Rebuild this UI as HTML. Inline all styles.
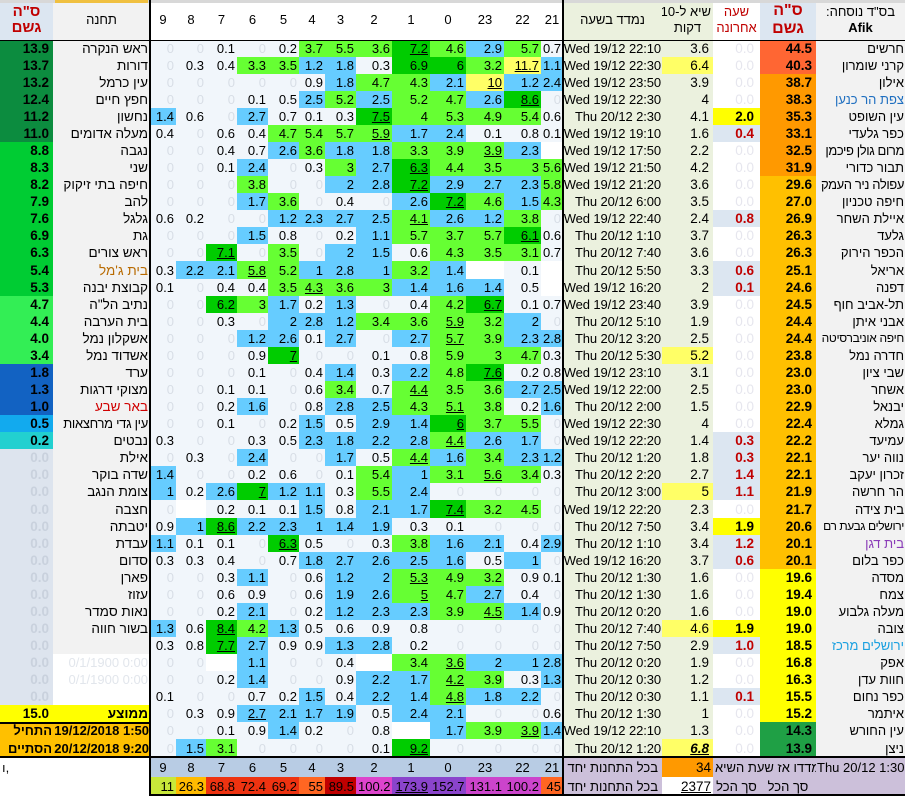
<!DOCTYPE html>
<html><head><meta charset="utf-8">
<style>
body{margin:0;width:905px;height:796px;overflow:hidden;background:#fff;font-family:"Liberation Sans",Arial,sans-serif;position:relative}
table{border-collapse:collapse;table-layout:fixed;width:905px;position:absolute;left:0;top:0}
td{padding:0 2px;height:17px;font-size:13px;text-align:right;white-space:nowrap;overflow:hidden;line-height:17px;color:#000;border:none}
tr.h td{height:18px}
.z{background:#f1f6fb;color:#d8dee6}
.p{background:#f1f6fb}
.b{background:#66ccff}
.g{background:#66ff33}
.d{background:#00cc00}
.y{background:#ffff66}
.u{text-decoration:underline}
.m{background:#f2f2f2;direction:rtl;font-size:13.5px}
.n{background:#f2f2f2;direction:rtl;font-size:13px;padding:0 1px}
.t{background:#ebf1de;font-size:13px;padding:0 1px 0 0;letter-spacing:-0.1px}
.k{background:#ebf1de;font-size:13.5px;padding-right:4px}
.ky{background:#ffff66;font-size:13.5px;padding-right:4px}
.l{color:#e6e6ee;font-size:13.5px;padding-right:6px}
.lr{background:#dce6f1;color:#c00000;font-weight:bold;font-size:13.5px;padding-right:6px}
.ly{background:#ffff00;font-weight:bold;font-size:13.5px;padding-right:6px}
.o1,.o2,.o3,.o4,.o5,.a1,.a2,.a3,.a4,.a5,.a6,.a0{font-weight:bold;font-size:13.5px;padding-right:4px}
.o1{background:#ff6633}.o2{background:#ff9900}.o3{background:#ffc000}.o4{background:#ffff00}.o5{background:#1fa045}
.a1{background:#0c8c3f}.a2{background:#00cc33}.a3{background:#33ee55}.a4{background:#1262c2}.a5{background:#12aaee}.a6{background:#22d0d0}
.a0{background:#dde4ee;color:#c9d1dd}
.hd td{height:40px;text-align:center;line-height:16px;font-size:13px}
.ln{position:absolute;background:#000}
.or{background:#ffc000;font-weight:bold;font-size:13px;padding:0 1px}
</style></head><body>
<table>
<colgroup><col style="width:53px"><col style="width:97px"><col style="width:26px"><col style="width:30px"><col style="width:31px"><col style="width:31px"><col style="width:31px"><col style="width:26px"><col style="width:31px"><col style="width:36px"><col style="width:38px"><col style="width:36px"><col style="width:38px"><col style="width:37px"><col style="width:22px"><col style="width:99px"><col style="width:51px"><col style="width:47px"><col style="width:56px"><col style="width:89px"></colgroup>
<tr class="hd"><td style="background:#dce6f1;color:#c00000;font-weight:bold;font-size:15px;direction:rtl">ס"ה<br>גשם</td><td style="background:#f2f2f2">תחנה</td><td>9</td><td>8</td><td>7</td><td>6</td><td>5</td><td>4</td><td>3</td><td>2</td><td>1</td><td>0</td><td>23</td><td>22</td><td>21</td><td style="background:#ebf1de;font-size:13px">נמדד בשעה</td><td style="background:#ebf1de;direction:rtl">שיא ל-10<br>דקות</td><td style="color:#c00000">שעה<br>אחרונה</td><td style="background:#dce6f1;color:#c00000;font-weight:bold;font-size:16px;line-height:18px;direction:rtl">ס"ה<br>גשם</td><td style="background:#f2f2f2;direction:rtl">בס"ד נוסחה:<br><b>Afik</b></td></tr>
<tr><td class=a1>13.9<td class=m>ראש הנקרה<td class=z>0<td class=z>0<td class=p>0.1<td class=z>0<td class=p>0.2<td class=g>3.7<td class=g>5.5<td class=g>3.6<td class="d u">7.2<td class=g>4.6<td class=b>2.9<td class=g>5.7<td class=p>0.7<td class=t>Wed 19/12 22:10<td class=k>3.6<td class=l>0.0<td class=o1>44.5<td class=n>חרשים</tr>
<tr><td class=a1>13.7<td class=m>דורות<td class=z>0<td class=p>0.3<td class=p>0.4<td class=g>3.3<td class=g>3.5<td class=b>1.2<td class=b>1.8<td class=p>0.3<td class=d>6.9<td class=d>6<td class=g>3.2<td class="y u">11.7<td class=b>1.1<td class=t>Wed 19/12 22:30<td class=ky>6.4<td class=l>0.0<td class=o1>40.3<td class=n>קרני שומרון</tr>
<tr><td class=a1>13.2<td class=m>עין כרמל<td class=z>0<td class=z>0<td class=z>0<td class=z>0<td class=z>0<td class=p>0.9<td class=b>1.8<td class=g>4.7<td class=g>4.3<td class=b>2.1<td class="y u">10<td class=b>1.2<td class=b>2.4<td class=t>Wed 19/12 23:50<td class=k>3.9<td class=l>0.0<td class=o2>38.7<td class=n>אילון</tr>
<tr><td class=a1>12.4<td class=m>חפץ חיים<td class=z>0<td class=z>0<td class=z>0<td class=p>0.1<td class=p>0.5<td class=b>2.5<td class=g>5.2<td class=b>2.5<td class=g>5.2<td class=g>4.7<td class=b>2.6<td class="d u">8.6<td class=z>0<td class=t>Wed 19/12 22:30<td class=k>4<td class=l>0.0<td class=o2>38.3<td class=n style="color:#1f6fc0">צפת הר כנען</tr>
<tr><td class=a1>11.2<td class=m>נחשון<td class=b>1.4<td class=p>0.6<td class=z>0<td class=b>2.7<td class=p>0.7<td class=p>0.1<td class=p>0.3<td class="d u">7.5<td class=g>4<td class=g>5.3<td class=g>4.9<td class=g>5.4<td class=p>0.6<td class=t>Thu 20/12 2:30<td class=k>4.1<td class=ly>2.0<td class=o2>35.3<td class=n>עין השופט</tr>
<tr><td class=a1>11.0<td class=m>מעלה אדומים<td class=p>0.4<td class=z>0<td class=p>0.6<td class=p>0.4<td class=g>4.7<td class=g>5.4<td class=g>5.7<td class="g u">5.9<td class=b>1.7<td class=b>2.4<td class=p>0.1<td class=p>0.8<td class=p>0.1<td class=t>Wed 19/12 19:10<td class=k>1.6<td class=lr>0.4<td class=o2>33.1<td class=n>כפר גלעדי</tr>
<tr><td class=a2>8.8<td class=m>נגבה<td class=z>0<td class=z>0<td class=p>0.4<td class=p>0.7<td class=b>2.6<td class=g>3.6<td class=b>1.8<td class=b>1.8<td class=g>3.3<td class=g>3.9<td class="g u">3.9<td class=b>2.3<td><td class=t>Wed 19/12 17:50<td class=k>2.2<td class=l>0.0<td class=o2>32.5<td class=n style="letter-spacing:-0.4px">מרום גולן פיכמן</tr>
<tr><td class=a2>8.3<td class=m>שני<td class=z>0<td class=z>0<td class=p>0.1<td class=b>2.4<td class=z>0<td class=p>0.3<td class=g>3<td class=b>2.7<td class="d u">6.3<td class=g>4.4<td class=g>3.5<td class=g>3<td class=g>5.6<td class=t>Wed 19/12 21:50<td class=k>4.2<td class=l>0.0<td class=o2>31.9<td class=n>תבור כדורי</tr>
<tr><td class=a2>8.2<td class=m>חיפה בתי זיקוק<td class=z>0<td class=z>0<td class=z>0<td class=g>3.8<td class=z>0<td class=z>0<td class=b>2<td class=b>2.8<td class="d u">7.2<td class=b>2.9<td class=b>2.7<td class=b>2.3<td class=g>5.8<td class=t>Wed 19/12 21:20<td class=k>3.6<td class=l>0.0<td class=o3>29.6<td class=n style="letter-spacing:-0.4px">עפולה ניר העמק</tr>
<tr><td class=a2>7.9<td class=m>להב<td class=z>0<td class=z>0<td class=z>0<td class=b>1.7<td class=g>3.6<td class=z>0<td class=p>0.4<td class=z>0<td class=b>2.6<td class="d u">7.2<td class=g>4.6<td class=b>1.5<td class=g>4.3<td class=t>Thu 20/12 6:00<td class=k>3.5<td class=l>0.0<td class=o3>27.0<td class=n>חיפה טכניון</tr>
<tr><td class=a2>7.6<td class=m>גלגל<td class=p>0.6<td class=p>0.2<td class=z>0<td class=z>0<td class=b>1.2<td class=b>2.3<td class=b>2.7<td class=b>2.5<td class="g u">4.1<td class=b>2.6<td class=b>1.2<td class=g>3.8<td class=z>0<td class=t>Wed 19/12 22:40<td class=k>2.4<td class=lr>0.8<td class=o3>26.9<td class=n>איילת השחר</tr>
<tr><td class=a2>6.9<td class=m>גת<td class=z>0<td class=z>0<td class=z>0<td class=b>1.5<td class=p>0.8<td class=z>0<td class=p>0.2<td class=b>1.1<td class=g>5.7<td class=g>3.7<td class=g>5.7<td class="d u">6.1<td class=p>0.6<td class=t>Thu 20/12 1:10<td class=k>3.7<td class=l>0.0<td class=o3>26.3<td class=n>גלעד</tr>
<tr><td class=a2>6.3<td class=m>ראש צורים<td class=z>0<td class=z>0<td class="d u">7.1<td class=z>0<td class=g>3.5<td class=z>0<td class=b>2<td class=b>1.5<td class=p>0.6<td class=g>4.3<td class=g>3.5<td class=g>3.1<td class=p>0.7<td class=t>Thu 20/12 7:40<td class=k>3.6<td class=l>0.0<td class=o3>26.3<td class=n>הכפר הירוק</tr>
<tr class=h><td class=a2>5.4<td class=m style="color:#b86a00">בית ג'מל<td class=p>0.3<td class=b>2.2<td class=b>2.1<td class="g u">5.8<td class=g>5.2<td class=b>1<td class=b>2.8<td class=b>1<td class=g>3.2<td class=b>1.4<td><td class=p>0.1<td><td class=t>Thu 20/12 5:50<td class=k>3.3<td class=lr>0.6<td class=o3>25.1<td class=n>אריאל</tr>
<tr><td class=a2>5.3<td class=m>קבוצת יבנה<td class=p>0.1<td class=z>0<td class=p>0.4<td class=p>0.4<td class=g>3.5<td class="g u">4.3<td class=g>3.6<td class=g>3<td class=b>1.4<td class=b>1.6<td class=b>1.4<td class=p>0.5<td><td class=t>Wed 19/12 16:20<td class=k>2<td class=lr>0.1<td class=o3>24.6<td class=n>דפנה</tr>
<tr><td class=a3>4.7<td class=m>נתיב הל"ה<td class=z>0<td class=z>0<td class=d>6.2<td class=g>3<td class=b>1.7<td class=p>0.2<td class=b>1.3<td class=z>0<td class=p>0.4<td class=g>4.2<td class="d u">6.7<td class=p>0.1<td class=p>0.7<td class=t>Wed 19/12 23:40<td class=k>3.9<td class=l>0.0<td class=o3>24.5<td class=n>תל-אביב חוף</tr>
<tr><td class=a3>4.4<td class=m>בית הערבה<td class=z>0<td class=z>0<td class=p>0.3<td class=z>0<td class=b>2<td class=b>2.8<td class=b>1.2<td class=g>3.4<td class=g>3.6<td class="g u">5.9<td class=g>3.2<td class=b>2<td class=z>0<td class=t>Thu 20/12 5:10<td class=k>1.9<td class=l>0.0<td class=o3>24.4<td class=n>אבני איתן</tr>
<tr><td class=a3>4.0<td class=m>אשקלון נמל<td class=z>0<td class=z>0<td class=z>0<td class=b>1.2<td class=b>2.6<td class=p>0.1<td class=b>2.7<td class=z>0<td class=b>2.7<td class="g u">5.7<td class=g>3.9<td class=b>2.3<td class=b>2.8<td class=t>Thu 20/12 3:20<td class=k>2.5<td class=l>0.0<td class=o3>24.4<td class=n style="font-size:12px;letter-spacing:-0.3px">חיפה אוניברסיטה</tr>
<tr><td class=a3>3.4<td class=m>אשדוד נמל<td class=z>0<td class=z>0<td class=z>0<td class=p>0.9<td class="d u">7<td class=z>0<td class=z>0<td class=p>0.1<td class=p>0.8<td class=g>5.9<td class=g>3<td class=g>4.7<td class=p>0.3<td class=t>Thu 20/12 5:30<td class=ky>5.2<td class=l>0.0<td class=o3>23.8<td class=n>חדרה נמל</tr>
<tr><td class=a4>1.8<td class=m>ערד<td class=z>0<td class=z>0<td class=z>0<td class=p>0.1<td class=z>0<td class=p>0.4<td class=b>1.4<td class=p>0.3<td class=b>2.2<td class=g>4.8<td class="d u">7.6<td class=p>0.2<td class=p>0.8<td class=t>Wed 19/12 23:10<td class=k>3.1<td class=l>0.0<td class=o3>23.0<td class=n>שבי ציון</tr>
<tr><td class=a4>1.3<td class=m>מצוקי דרגות<td class=z>0<td class=z>0<td class=p>0.1<td class=p>0.1<td class=z>0<td class=p>0.6<td class=g>3.4<td class=p>0.7<td class="g u">4.4<td class=g>3.5<td class=g>3.6<td class=b>2.7<td class=b>2.5<td class=t>Wed 19/12 22:00<td class=k>2.5<td class=l>0.0<td class=o3>23.0<td class=n>אשחר</tr>
<tr><td class=a4>1.0<td class=m style="color:#d00000">באר שבע<td class=z>0<td class=z>0<td class=p>0.2<td class=b>1.6<td class=z>0<td class=p>0.8<td class=b>2.8<td class=b>2.5<td class=g>4.3<td class="g u">5.1<td class=g>3.8<td class=p>0.2<td class=b>1.6<td class=t>Thu 20/12 2:00<td class=k>1.5<td class=l>0.0<td class=o3>22.9<td class=n>יבנאל</tr>
<tr><td class=a5>0.5<td class=m style="font-size:13px;letter-spacing:-0.3px">עין גדי מרחצאות<td class=z>0<td class=z>0<td class=p>0.1<td class=z>0<td class=p>0.2<td class=b>1.5<td class=p>0.5<td class=b>2.9<td class=b>1.4<td class="d u">6<td class=g>3.7<td class=g>5.5<td class=z>0<td class=t>Wed 19/12 22:30<td class=k>4<td class=l>0.0<td class=o3>22.4<td class=n>גמלא</tr>
<tr><td class=a6>0.2<td class=m>נבטים<td class=p>0.3<td class=z>0<td class=z>0<td class=p>0.3<td class=p>0.5<td class=b>2.3<td class=b>1.8<td class=b>2.2<td class=b>2.8<td class="g u">4.4<td class=b>2.6<td class=b>1.7<td class=z>0<td class=t>Wed 19/12 22:20<td class=k>1.4<td class=lr>0.3<td class=o3>22.2<td class=n>עמיעד</tr>
<tr><td class=a0>0.0<td class=m>אילת<td class=z>0<td class=p>0.3<td class=z>0<td class=b>2.4<td class=z>0<td class=z>0<td class=b>1.7<td class=p>0.5<td class="g u">4.4<td class=b>1.6<td class=g>3.4<td class=b>2.3<td class=b>1.2<td class=t>Thu 20/12 1:20<td class=k>1.8<td class=lr>0.3<td class=o3>22.1<td class=n>נווה יער</tr>
<tr><td class=a0>0.0<td class=m>שדה בוקר<td class=b>1.4<td class=z>0<td class=z>0<td class=p>0.2<td class=p>0.6<td class=z>0<td class=p>0.1<td class=g>5.4<td class=b>1<td class=g>3.1<td class="g u">5.6<td class=g>3.4<td class=p>0.3<td class=t>Thu 20/12 2:20<td class=k>2.7<td class=lr>1.4<td class=o3>22.1<td class=n>זכרון יעקב</tr>
<tr><td class=a0>0.0<td class=m>צומת הנגב<td class=b>1<td class=p>0.2<td class=b>2.6<td class="d u">7<td class=b>1.2<td class=b>1.1<td class=p>0.3<td class=g>5.5<td class=b>2.4<td class=z>0<td class=z>0<td class=z>0<td class=z>0<td class=t>Thu 20/12 3:00<td class=ky>5<td class=lr>1.1<td class=o3>21.9<td class=n>הר חרשה</tr>
<tr class=h><td class=a0>0.0<td class=m>חצבה<td class=z>0<td><td class=p>0.2<td class=p>0.1<td class=p>0.1<td class=b>1.5<td class=p>0.8<td class=b>2.1<td class=b>1.7<td class="d u">7.4<td class=g>3.2<td class=g>4.5<td class=z>0<td class=t>Wed 19/12 22:20<td class=k>2.3<td class=l>0.0<td class=o3>21.7<td class=n>בית צידה</tr>
<tr><td class=a0>0.0<td class=m>יטבתה<td class=p>0.9<td class=b>1<td class="d u">8.6<td class=b>2.2<td class=b>2.3<td class=b>1<td class=b>1.4<td class=b>1.9<td class=p>0.3<td class=p>0.1<td class=z>0<td class=z>0<td class=z>0<td class=t>Thu 20/12 7:50<td class=k>3.4<td class=ly>1.9<td class=o3>20.6<td class=n style="font-size:12px;letter-spacing:-0.4px">ירושלים גבעת רם</tr>
<tr><td class=a0>0.0<td class=m>עבדת<td class=b>1.1<td class=p>0.1<td class=p>0.1<td class=z>0<td class="d u">6.3<td class=p>0.5<td class=z>0<td class=p>0.3<td class=g>3.8<td class=b>1.6<td class=b>2.1<td class=p>0.4<td class=b>2.9<td class=t>Thu 20/12 1:10<td class=k>3.4<td class=lr>1.2<td class=o3>20.1<td class=n style="color:#8a3cb8">בית דגן</tr>
<tr><td class=a0>0.0<td class=m>סדום<td class=p>0.3<td class=p>0.3<td class=p>0.4<td class=z>0<td class=p>0.7<td class=b>1.8<td class=b>2.7<td class=b>2.6<td class=b>2.5<td class=b>1.6<td class=p>0.5<td class=b>1<td class=z>0<td class=t>Wed 19/12 16:20<td class=k>3.7<td class=lr>0.6<td class=o3>20.1<td class=n>כפר בלום</tr>
<tr><td class=a0>0.0<td class=m>פארן<td class=z>0<td class=z>0<td class=p>0.3<td class=b>1.1<td class=z>0<td class=p>0.6<td class=b>1.2<td class=b>2<td class="g u">5.3<td class=g>4.9<td class=g>3.2<td class=p>0.9<td class=p>0.1<td class=t>Thu 20/12 1:30<td class=k>1.6<td class=l>0.0<td class=o4>19.6<td class=n>מסדה</tr>
<tr><td class=a0>0.0<td class=m>עזוז<td class=z>0<td class=z>0<td class=p>0.6<td class=p>0.9<td class=z>0<td class=p>0.6<td class=b>1.9<td class=b>2.6<td class="g u">5<td class=g>4.7<td class=b>2.7<td class=p>0.4<td class=z>0<td class=t>Thu 20/12 1:30<td class=k>1.6<td class=l>0.0<td class=o4>19.4<td class=n>צמח</tr>
<tr><td class=a0>0.0<td class=m>נאות סמדר<td class=z>0<td class=z>0<td class=p>0.2<td class=b>2.1<td class=z>0<td class=p>0.2<td class=b>1.2<td class=b>2.3<td class=b>2.3<td class=g>3.9<td class="g u">4.5<td class=b>1.4<td class=p>0.9<td class=t>Thu 20/12 0:20<td class=k>1.6<td class=l>0.0<td class=o4>19.0<td class=n>מעלה גלבוע</tr>
<tr><td class=a0>0.0<td class=m>בשור חווה<td class=b>1.3<td class=p>0.6<td class="d u">8.4<td class=g>4.2<td class=b>1.3<td class=p>0.5<td class=p>0.6<td class=p>0.9<td class=p>0.8<td class=z>0<td class=z>0<td class=z>0<td class=z>0<td class=t>Thu 20/12 7:40<td class=ky>4.6<td class=ly>1.9<td class=o4>19.0<td class=n>צובה</tr>
<tr><td class=a0>0.0<td class=m><td class=p>0.3<td class=p>0.8<td class="d u">7.7<td class=b>2.7<td class=p>0.9<td class=p>0.9<td class=b>1.3<td class=b>2.8<td class=p>0.2<td class=z>0<td class=z>0<td class=z>0<td class=z>0<td class=t>Thu 20/12 7:50<td class=k>2.9<td class=lr>1.0<td class=o4>18.5<td class=n style="color:#1aa0e0">ירושלים מרכז</tr>
<tr><td class=a0>0.0<td style="color:#e2e6ec">0/1/1900 0:00<td class=z>0<td class=z>0<td><td class=b>1.1<td class=z>0<td class=z>0<td class=p>0.4<td><td class=g>3.4<td class="g u">3.6<td class=b>2<td class=b>1<td class=b>2.8<td class=t>Thu 20/12 0:20<td class=k>1.9<td class=l>0.0<td class=o4>16.8<td class=n>אפק</tr>
<tr><td class=a0>0.0<td style="color:#e2e6ec">0/1/1900 0:00<td class=z>0<td class=z>0<td class=p>0.2<td class=b>1.4<td class=z>0<td class=z>0<td class=p>0.9<td class=b>2.2<td class=b>1.7<td class="g u">4.2<td class=g>3.9<td class=p>0.3<td class=b>1.3<td class=t>Thu 20/12 0:30<td class=k>1.2<td class=l>0.0<td class=o4>16.3<td class=n>חוות עדן</tr>
<tr><td class=a0>0.0<td><td class=p>0.1<td class=z>0<td class=z>0<td class=p>0.7<td class=p>0.2<td class=b>1.5<td class=p>0.4<td class=b>2.2<td class=b>1.4<td class="g u">4.8<td class=b>1.8<td class=b>2.2<td class=z>0<td class=t>Thu 20/12 0:30<td class=k>1.1<td class=lr>0.1<td class=o4>15.5<td class=n>כפר נחום</tr>
<tr><td class=a1 style="background:#ffff00;color:#000">15.0<td style="background:#ffff00;font-weight:bold;font-size:13.5px">ממוצע<td class=z>0<td class=p>0.3<td class=p>0.9<td class="b u">2.7<td class=b>2.1<td class=b>1.7<td class=b>1.9<td class=p>0.5<td class=b>2.4<td class=b>2.1<td class=z>0<td class=z>0<td class=p>0.6<td class=t>Thu 20/12 1:30<td class=k>1<td class=l>0.0<td class=o4>15.2<td class=n>איתמר</tr>
<tr><td class=or>התחיל<td class=or>19/12/2018 1:50<td class=z>0<td class=z>0<td class=p>0.1<td class=p>0.9<td class=b>1.4<td class=p>0.2<td class=z>0<td class=p>0.8<td><td class=b>1.7<td class=g>3.9<td class="g u">3.9<td class=b>1.4<td class=t>Wed 19/12 22:10<td class=k>1.3<td class=l>0.0<td class=o5>14.3<td class=n>עין החורש</tr>
<tr class=h><td class=or>הסתיים<td class=or>20/12/2018 9:20<td class=z>0<td class=b>1.5<td class=g>3.1<td class=z>0<td class=z>0<td class=z>0<td class=z>0<td class=p>0.1<td class="d u">9.2<td class=z>0<td class=z>0<td class=z>0<td class=z>0<td class=t>Thu 20/12 1:20<td class=ky style="font-weight:bold;font-style:italic;text-decoration:underline">6.8<td class=l>0.0<td class=o5>13.9<td class=n>ניצן</tr>
<tr style="height:20px"><td style="height:20px;text-align:left">ı,<td><td style="background:#b8cce4;text-align:center">9<td style="background:#b8cce4;text-align:center">8<td style="background:#b8cce4;text-align:center">7<td style="background:#b8cce4;text-align:center">6<td style="background:#b8cce4;text-align:center">5<td style="background:#b8cce4;text-align:center">4<td style="background:#b8cce4;text-align:center">3<td style="background:#b8cce4;text-align:center">2<td style="background:#b8cce4;text-align:center">1<td style="background:#b8cce4;text-align:center">0<td style="background:#b8cce4;text-align:center">23<td style="background:#b8cce4;text-align:center">22<td style="background:#b8cce4;text-align:center">21<td style="background:#ccc0da;font-size:13px;direction:rtl;padding-right:4px">בכל התחנות יחד<td style="background:#ff9900;font-size:13.5px">34<td colspan=2 style="background:#ccc0da;font-size:13px;text-align:center"><span>נמדדו אז</span> <span>שעת השיא</span><td style="background:#ccc0da;font-size:13px;padding:0 1px">Thu 20/12 1:30</tr>
<tr style="height:19px"><td style="height:19px"><td><td style="background:#c8e83a">11<td style="background:#ffbb00">26.3<td style="background:#ee3311">68.8<td style="background:#ee3311">72.4<td style="background:#ee3311">69.2<td style="background:#ff6622">55<td style="background:#c00000">89.5<td style="background:#dd44cc">100.2<td style="background:#8a44cc;text-decoration:underline">173.9<td style="background:#8a44cc">152.7<td style="background:#cc44cc">131.1<td style="background:#cc44cc">100.2<td style="background:#ff6622">45<td style="background:#ccc0da;font-size:13px;direction:rtl;padding-right:4px">בכל התחנות יחד<td style="background:#fff;font-size:13.5px;text-decoration:underline">2377<td style="background:#ccc0da;font-size:13px;text-align:center">סך הכל<td style="background:#ccc0da;font-size:13px;text-align:center">סך הכל<td style="background:#ccc0da"></tr>
</table>
<div class="ln" style="left:0;top:0;width:905px;height:3px;background:#d8d8d8"></div>
<div class="ln" style="left:55px;top:0;width:93px;height:3px;background:#f0c040"></div>
<div class="ln" style="left:149px;top:0;width:2px;height:757px"></div>
<div class="ln" style="left:562px;top:0;width:2px;height:796px"></div>
<div class="ln" style="left:0;top:40px;width:905px;height:1px"></div>
<div class="ln" style="left:0;top:722px;width:150px;height:2px"></div>
<div class="ln" style="left:0;top:756px;width:905px;height:2px"></div>
<div class="ln" style="left:149px;top:756px;width:2px;height:40px"></div>
<div class="ln" style="left:149px;top:794px;width:756px;height:2px"></div>
</body></html>
